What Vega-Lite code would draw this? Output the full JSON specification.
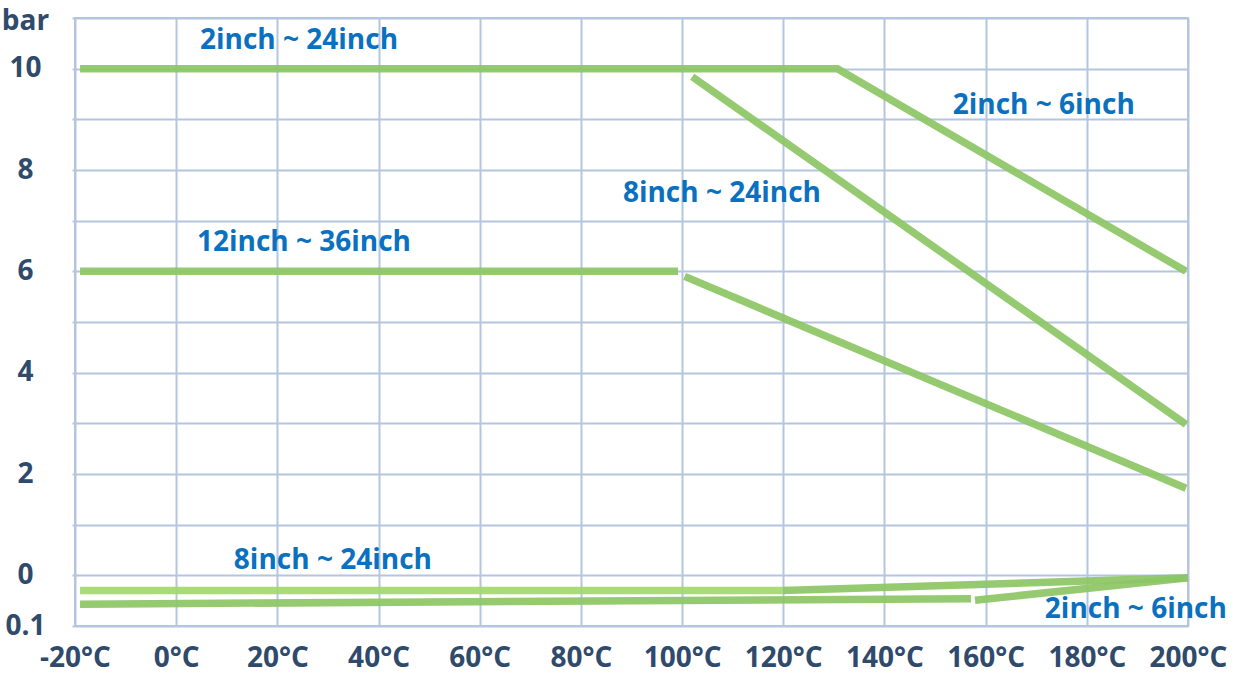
{
  "$schema": "https://vega.github.io/schema/vega-lite/v6.json",
  "width": 1113,
  "height": 608,
  "autosize": {"type": "none"},
  "padding": {"left": 75, "top": 18, "right": 47, "bottom": 49},
  "background": "white",
  "config": {
    "view": {"stroke": "#b4c5de", "strokeWidth": 2},
    "font": "Open Sans"
  },
  "datasets": {
    "lines": [
      {"seg": "A", "tone": "n", "t": -19, "p": 10},
      {"seg": "A", "tone": "n", "t": 130.7, "p": 10},
      {"seg": "A", "tone": "n", "t": 199.6, "p": 6.0},
      {"seg": "B", "tone": "n", "t": 102, "p": 9.84},
      {"seg": "B", "tone": "n", "t": 199.6, "p": 2.98},
      {"seg": "C", "tone": "n", "t": -19, "p": 6.0},
      {"seg": "C", "tone": "n", "t": 99.2, "p": 6.0},
      {"seg": "D", "tone": "n", "t": 100.5, "p": 5.9},
      {"seg": "D", "tone": "n", "t": 199.6, "p": 1.72},
      {"seg": "G", "tone": "n", "t": -19, "p": -0.57},
      {"seg": "G", "tone": "n", "t": 157.1, "p": -0.46},
      {"seg": "H", "tone": "n", "t": 157.9, "p": -0.49},
      {"seg": "H", "tone": "n", "t": 200, "p": -0.05},
      {"seg": "F", "tone": "n", "t": 119.9, "p": -0.3},
      {"seg": "F", "tone": "n", "t": 200, "p": -0.05},
      {"seg": "E", "tone": "b", "t": -19, "p": -0.3},
      {"seg": "E", "tone": "b", "t": 119.9, "p": -0.3}
    ],
    "labels": [
      {"t": 4.7, "p": 10.55, "txt": "2inch ~ 24inch"},
      {"t": 153.5, "p": 9.27, "txt": "2inch ~ 6inch"},
      {"t": 88.3, "p": 7.53, "txt": "8inch ~ 24inch"},
      {"t": 4.1, "p": 6.55, "txt": "12inch ~ 36inch"},
      {"t": 11.4, "p": 0.28, "txt": "8inch ~ 24inch"},
      {"t": 171.7, "p": -0.69, "txt": "2inch ~ 6inch"}
    ]
  },
  "layer": [
    {
      "data": {"name": "lines"},
      "mark": {"type": "line", "strokeWidth": 7.5, "strokeCap": "butt", "opacity": 0.92},
      "encoding": {
        "x": {
          "field": "t", "type": "quantitative",
          "scale": {"domain": [-20, 200], "nice": false, "zero": false},
          "axis": {
            "values": [-20, 0, 20, 40, 60, 80, 100, 120, 140, 160, 180, 200],
            "labelExpr": "datum.value + '°C'",
            "title": null,
            "grid": true, "gridColor": "#b4c5de", "gridWidth": 2, "gridOpacity": 1,
            "domain": false, "ticks": false,
            "labelFont": "Open Sans", "labelFontSize": 28, "labelFontWeight": "bold",
            "labelColor": "#2f4a6b", "labelPadding": 18, "labelOverlap": false,
            "labelFlush": false, "labelBound": false
          }
        },
        "y": {
          "field": "p", "type": "quantitative",
          "scale": {"domain": [-1, 11], "nice": false, "zero": false},
          "axis": {
            "values": [-1, 0, 1, 2, 3, 4, 5, 6, 7, 8, 9, 10, 11],
            "labelExpr": "datum.value == 11 ? 'bar' : datum.value == -1 ? '0.1' : (datum.value % 2 == 0 ? datum.label : '')",
            "title": null,
            "grid": true, "gridColor": "#b4c5de", "gridWidth": 2, "gridOpacity": 1,
            "domain": false, "ticks": true, "tickSize": 3, "tickColor": "#b4c5de", "tickWidth": 2,
            "labelFont": "Open Sans", "labelFontSize": 28, "labelFontWeight": "bold",
            "labelColor": "#2f4a6b", "labelAlign": "center", "labelPadding": 47,
            "labelOffset": {"condition": {"test": "datum.value == 11", "value": 3}, "value": 0},
            "labelOverlap": false, "labelFlush": false, "labelBound": false
          }
        },
        "detail": {"field": "seg"},
        "color": {
          "field": "tone", "type": "nominal",
          "scale": {"domain": ["n", "b"], "range": ["#8cc665", "#a3d86a"]},
          "legend": null
        }
      }
    },
    {
      "data": {"name": "labels"},
      "mark": {"type": "text", "align": "left", "baseline": "middle", "font": "Open Sans", "fontSize": 28, "fontWeight": "bold", "color": "#0a70c0"},
      "encoding": {
        "x": {"field": "t", "type": "quantitative"},
        "y": {"field": "p", "type": "quantitative"},
        "text": {"field": "txt"}
      }
    }
  ]
}
